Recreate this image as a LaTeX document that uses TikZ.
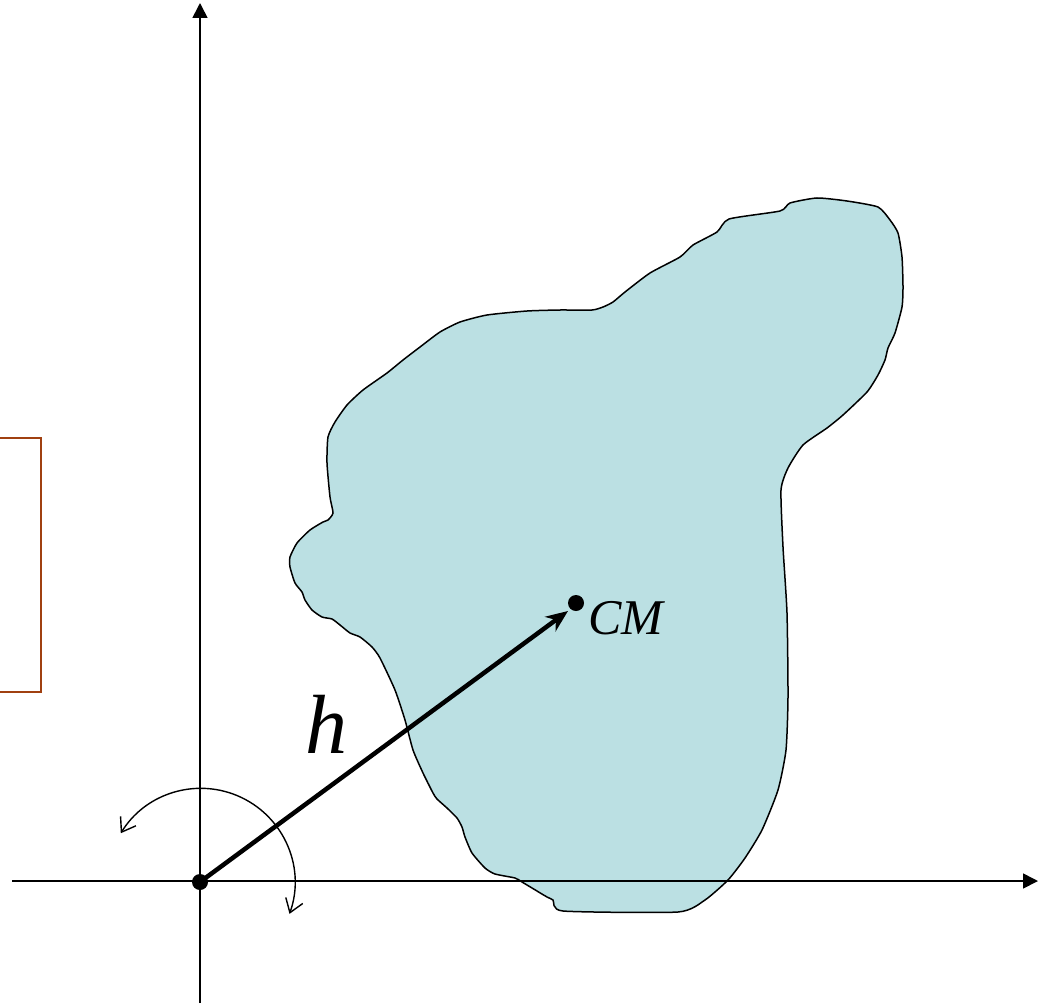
\documentclass[tikz,border=0pt]{standalone}
\usepackage{fontspec}
\setmainfont{Liberation Serif}
\usetikzlibrary{arrows.meta}
\definecolor{blobfill}{RGB}{187,224,227}
\definecolor{boxbrown}{RGB}{160,64,16}
\begin{document}
\begin{tikzpicture}[x=1pt,y=-1pt,
  axis/.style={line width=1.6pt,-{Triangle[length=15pt,width=15pt]}},
  blob/.style={fill=blobfill,draw=black,line width=1.5pt},
  dotnode/.style={circle,fill=black,inner sep=0pt,minimum size=16pt},
  vec/.style={line width=4.5pt,-{Stealth[length=22pt,width=18pt,inset=7pt]}},
  rot/.style={line width=1.4pt,{Straight Barb[length=13pt,width=18pt]}-{Straight Barb[length=13pt,width=18pt]}},
  lab/.style={inner sep=0pt}]
\useasboundingbox (0,0) rectangle (1043,1003);
% brown box
\draw[boxbrown,line width=1.6pt] (-5,438) rectangle (41,692);
% body
\draw[blob] plot[smooth cycle,tension=0.35] coordinates {
(680,257) (693,245) (717,232) (729,219) (780,211) (790,203) (817,198) (847,201)
(878,207) (890,220) (898,233) (902,257) (903,287) (902,307) (895,333) (888,348)
(885,360) (878,375) (867,392) (843,415) (827,428) (803,445) (788,468) (781,490)
(783,547) (787,613) (788,697) (786,750) (778,790) (762,830) (745,858) (728,880)
(705,900) (678,912) (563,911) (553,900) (547,897) (522,882) (515,878) (495,874)
(485,868) (472,853) (465,837) (462,827) (457,818) (447,808) (437,799) (433,793)
(423,773) (413,750) (405,720) (395,690) (380,658) (372,647) (360,637) (350,633)
(340,625) (332,619) (322,617) (312,610) (305,600) (302,592) (295,583) (290,567)
(290,557) (297,543) (310,530) (323,522) (328,520) (333,513) (330,497) (327,463)
(328,437) (335,422) (347,405) (363,390) (387,373) (403,360) (420,347) (440,332)
(460,322) (487,315) (527,311) (560,310) (592,310) (603,307) (613,302) (625,292)
(650,273)};
% axes
\coordinate (xs) at (12,881);
\coordinate (xe) at (1038,881);
\coordinate (ys) at (200,1003);
\coordinate (ye) at (200,3);
\draw[axis] (xs) -- (xe);
\draw[axis] (ys) -- (ye);
% points
\node[dotnode] (O) at (200,882) {};
\node[dotnode] (CM) at (576,603) {};
% vector h
\draw[vec] (O.center) -- (568,611);
% rotation arc
\draw[rot] ([shift={(19.6:95)}]O.center) arc[start angle=19.6,end angle=-148.5,radius=94];
% labels
\node[lab,anchor=base west] (cmlab) at (588,634) {\fontsize{50}{60}\selectfont\itshape CM};
\node[lab,anchor=base west] (hlab) at (305,753) {\fontsize{84}{96}\selectfont\itshape h};
\end{tikzpicture}
\end{document}
